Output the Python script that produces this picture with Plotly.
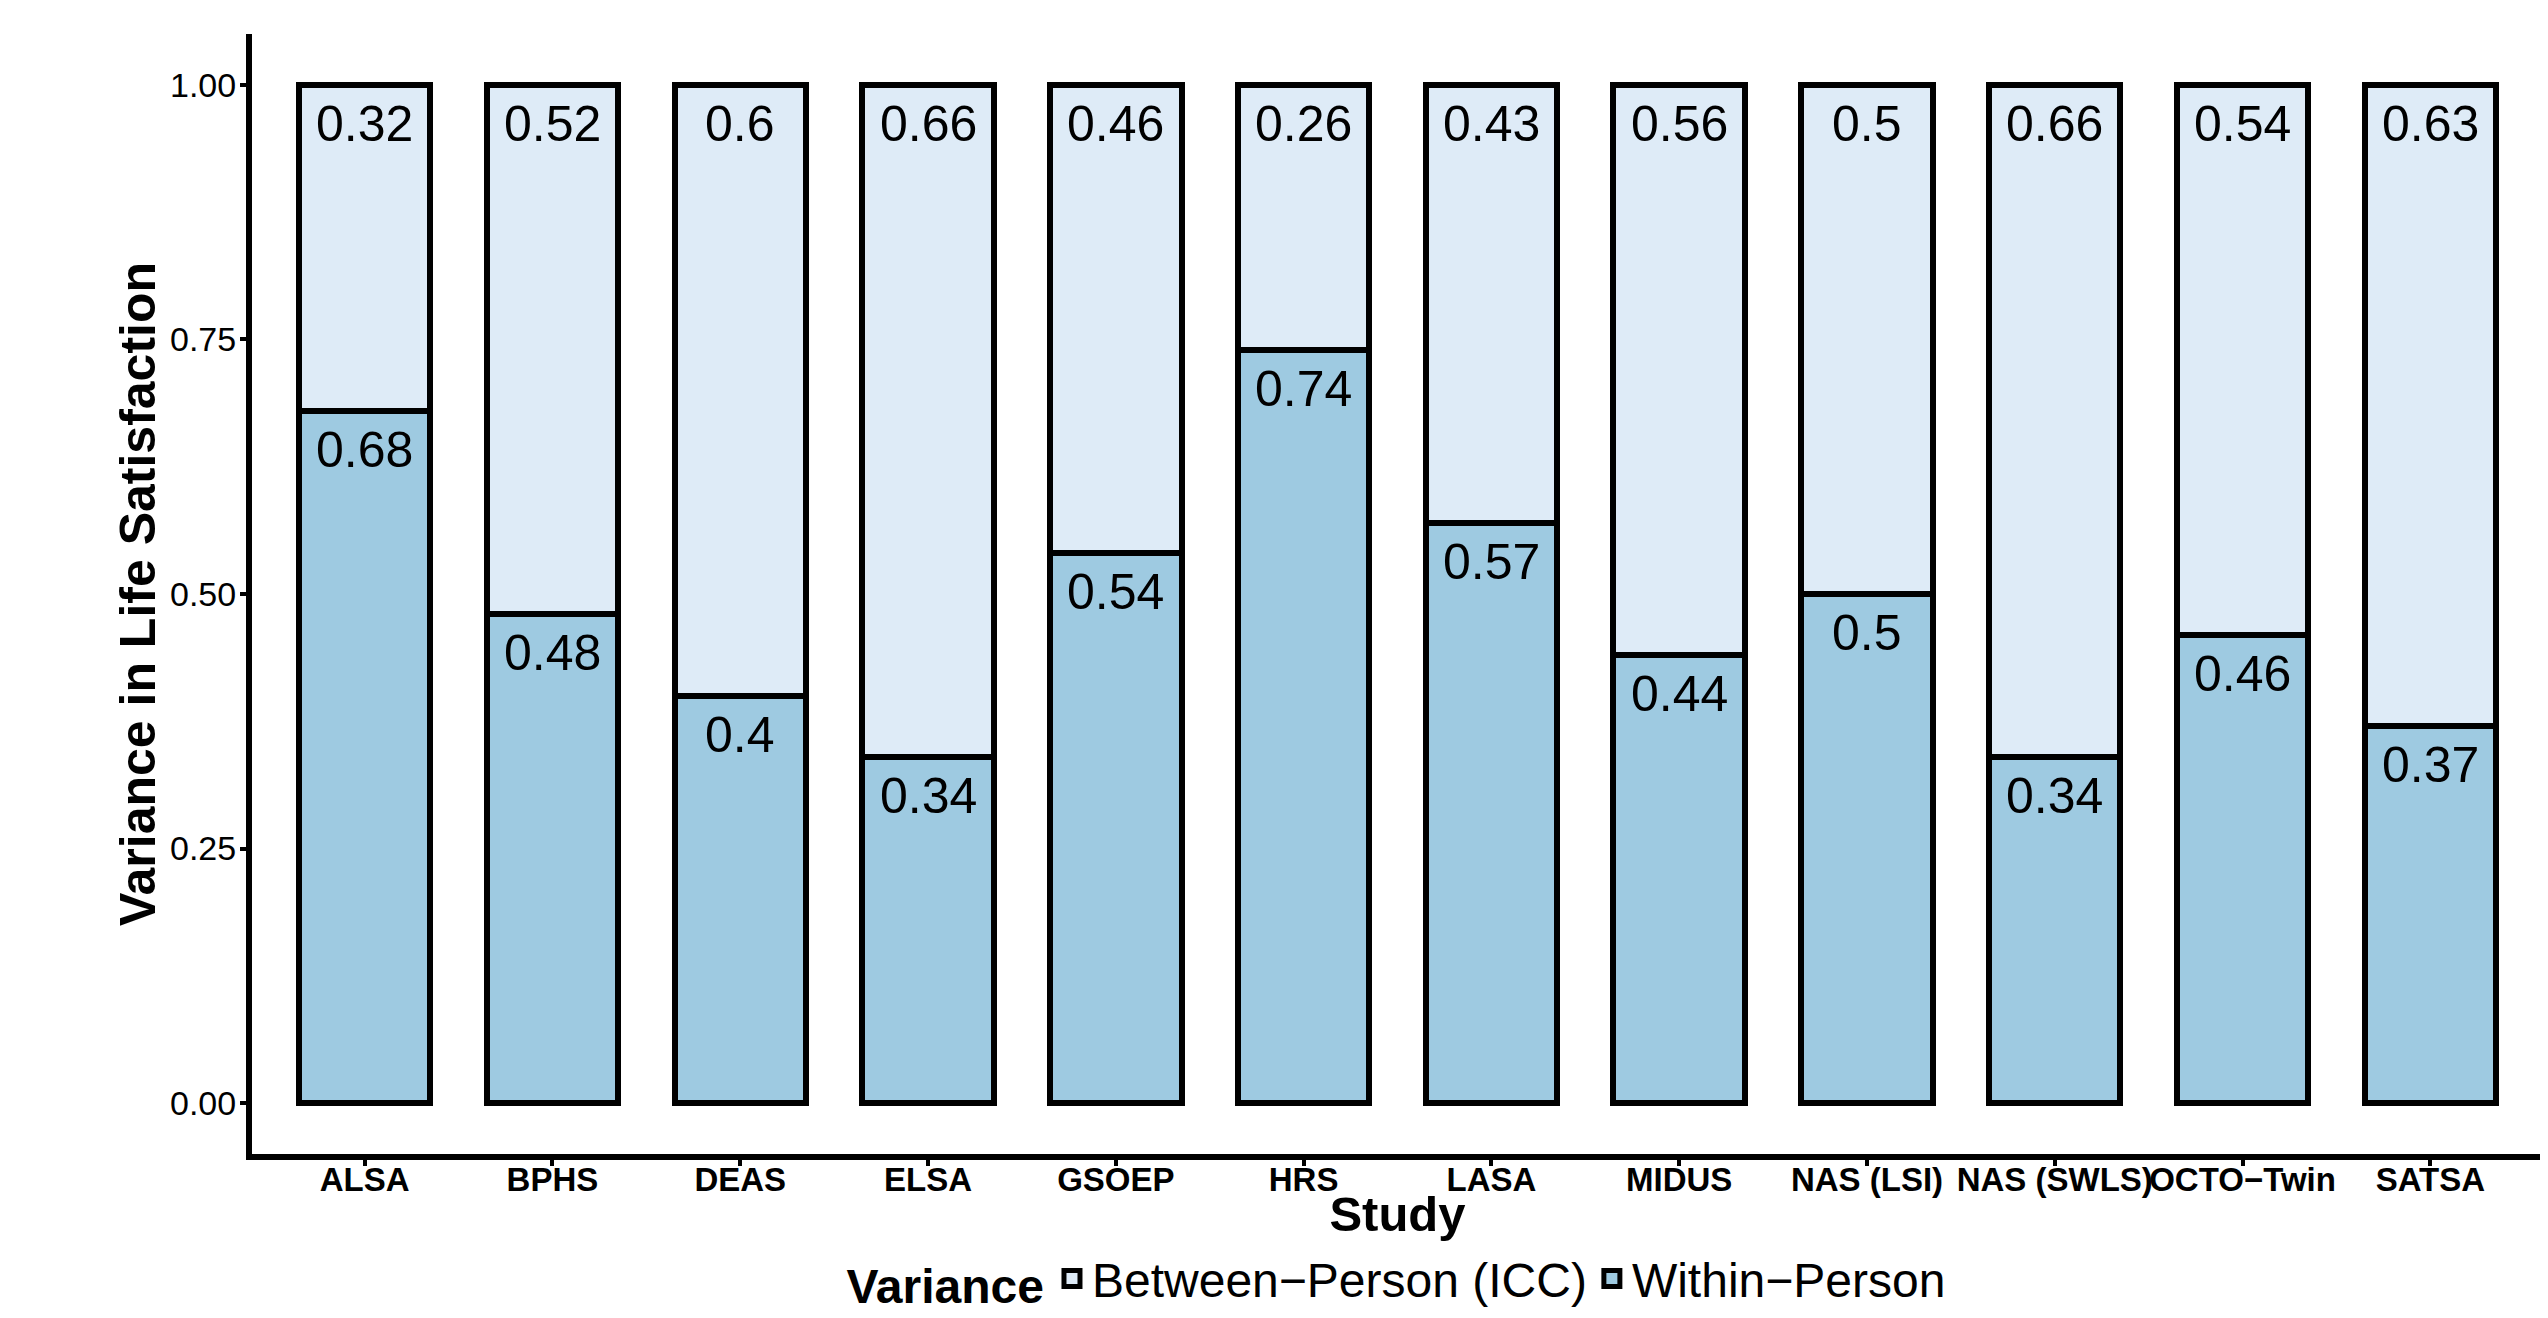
import plotly.graph_objects as go

studies = ["ALSA", "BPHS", "DEAS", "ELSA", "GSOEP", "HRS", "LASA", "MIDUS",
           "NAS (LSI)", "NAS (SWLS)", "OCTO\u2212Twin", "SATSA"]
within = [0.68, 0.48, 0.40, 0.34, 0.54, 0.74, 0.57, 0.44, 0.50, 0.34, 0.46, 0.37]
between = [0.32, 0.52, 0.60, 0.66, 0.46, 0.26, 0.43, 0.56, 0.50, 0.66, 0.54, 0.63]
y_ticks = [0.0, 0.25, 0.50, 0.75, 1.00]
y_tick_labels = ["0.00", "0.25", "0.50", "0.75", "1.00"]

FONT = "Liberation Sans, Arial, Helvetica, sans-serif"
C_WITHIN = "#9ECAE1"
C_BETWEEN = "#DEEBF7"
NAME_WITHIN = "Within\u2212Person"
NAME_BETWEEN = "Between\u2212Person (ICC)"

fig = go.Figure()
fig.add_trace(go.Bar(
    x=studies, y=within, name=NAME_WITHIN, showlegend=False,
    marker=dict(color=C_WITHIN, line=dict(color="black", width=6)),
    width=0.7,
))
fig.add_trace(go.Bar(
    x=studies, y=between, name=NAME_BETWEEN, showlegend=False,
    marker=dict(color=C_BETWEEN, line=dict(color="black", width=6)),
    width=0.7,
))
# legend keys (larger squares than bar legend symbols allow)
for nm, col in [(NAME_BETWEEN, C_BETWEEN), (NAME_WITHIN, C_WITHIN)]:
    fig.add_trace(go.Scatter(
        x=[None], y=[None], mode="markers", name=nm,
        marker=dict(symbol="square", size=22, color=col,
                    line=dict(color="black", width=5)),
    ))

def fmt(v):
    return f"{v:g}"

for s, w, b in zip(studies, within, between):
    fig.add_annotation(x=s, y=w + b, text=fmt(b), showarrow=False,
                       yanchor="middle", yshift=-39,
                       font=dict(family=FONT, size=50, color="black"))
    fig.add_annotation(x=s, y=w, text=fmt(w), showarrow=False,
                       yanchor="middle", yshift=-39,
                       font=dict(family=FONT, size=50, color="black"))

# the page body adds an 8px offset, so the figure is 8px smaller each way
fig.update_layout(
    width=2540, height=1310,
    barmode="stack",
    plot_bgcolor="white", paper_bgcolor="white",
    margin=dict(l=244, r=5, t=26, b=164, pad=0),
    font=dict(family=FONT, color="black"),
    xaxis=dict(
        type="category", range=[-0.6, 11.6], automargin=False, tickangle=0,
        showline=True, linecolor="black", linewidth=6,
        ticks="outside", ticklen=6, tickwidth=4, tickcolor="black",
        ticklabelstandoff=-15,
        tickfont=dict(family=FONT, size=33, color="black", weight="bold"),
        title=dict(text="<b>Study</b>", font=dict(family=FONT, size=49, color="black"),
                   standoff=4),
        showgrid=False, zeroline=False,
    ),
    yaxis=dict(
        range=[-0.05, 1.05], automargin=False,
        tickvals=y_ticks, ticktext=y_tick_labels,
        showline=True, linecolor="black", linewidth=6,
        ticks="outside", ticklen=6, tickwidth=4, tickcolor="black",
        ticklabelstandoff=-3,
        tickfont=dict(family=FONT, size=34, color="black"),
        title=dict(text="<b>Variance in Life Satisfaction</b>",
                   font=dict(family=FONT, size=50, color="black"), standoff=1),
        showgrid=False, zeroline=False,
    ),
    legend=dict(
        orientation="h", x=0.5, xanchor="center",
        yref="container", y=0.03, yanchor="middle",
        traceorder="normal",
        title=dict(text="<b>Variance</b>", side="left",
                   font=dict(family=FONT, size=48, color="black")),
        font=dict(family=FONT, size=48, color="black"),
        itemwidth=30, itemsizing="trace",
    ),
    showlegend=True,
)

fig.write_html("out.html")
